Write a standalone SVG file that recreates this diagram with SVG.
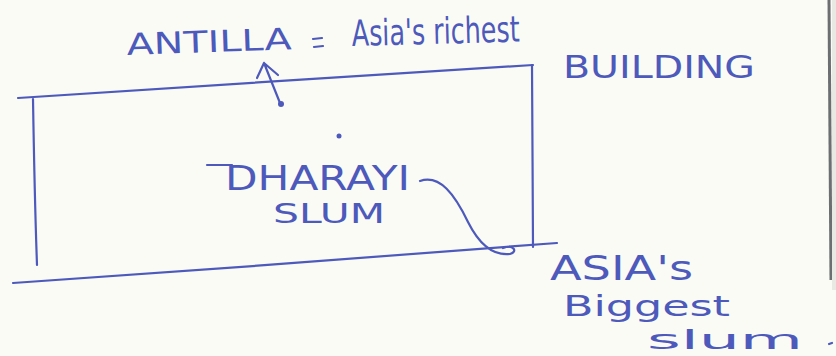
<svg xmlns="http://www.w3.org/2000/svg" width="836" height="356" viewBox="0 0 836 356">
  <style>
    .ink { fill: none; stroke: #4d5abb; stroke-width: 2.2; stroke-linecap: round; stroke-linejoin: round; }
    .hand { font-family: "DejaVu Sans", "Liberation Sans", sans-serif; fill: #4d5abb; font-weight: normal; }
  </style>
  <!-- paper -->
  <rect x="0" y="0" width="836" height="356" fill="#fbfbf6"/>
  <!-- paper edge on the right -->
  <path d="M829,0 L831,280" stroke="#6b6f72" stroke-width="3" fill="none"/>
  <rect x="832" y="0" width="4" height="290" fill="#e9e9e4"/>

  <!-- Antilla building / Dharavi block outline -->
  <g id="block">
    <path class="ink" d="M18,98 C150,90 380,74 533,65"/>
    <path class="ink" d="M33,99 C34,160 35,210 37,265"/>
    <path class="ink" d="M13,283 C180,272 400,255 557,243"/>
    <path class="ink" d="M532,65 C532,120 533,190 533,247"/>
  </g>

  <!-- Antilla label -->
  <g id="antilla">
    <text class="hand" x="127" y="55" font-size="30" textLength="165" lengthAdjust="spacingAndGlyphs" transform="rotate(-2 127 55)">ANTILLA</text>
    <path class="ink" d="M313,39 L322,38 M314,47 L323,46"/>
    <text class="hand" x="352" y="46" font-size="36" textLength="168" lengthAdjust="spacingAndGlyphs" transform="rotate(-1.5 352 46)">Asia's richest</text>
    <text class="hand" x="563" y="78" font-size="32" textLength="192" lengthAdjust="spacingAndGlyphs">BUILDING</text>
  </g>

  <!-- Dharavi label -->
  <g id="dharavi">
    <circle cx="339" cy="136" r="2.5" fill="#4d5abb"/>
    <path class="ink" d="M207,165 L232,165"/>
    <text class="hand" x="225" y="190" font-size="34" textLength="185" lengthAdjust="spacingAndGlyphs">DHARAYI</text>
    <text class="hand" x="273" y="223" font-size="26" textLength="112" lengthAdjust="spacingAndGlyphs">SLUM</text>
  </g>

  <!-- Biggest slum label -->
  <g id="asia-slum">
    <text class="hand" x="550" y="280" font-size="34" textLength="143" lengthAdjust="spacingAndGlyphs">ASIA's</text>
    <text class="hand" x="563" y="316" font-size="28" textLength="167" lengthAdjust="spacingAndGlyphs">Biggest</text>
    <text class="hand" x="647" y="349" font-size="26" textLength="156" lengthAdjust="spacingAndGlyphs">slum</text>
    <path class="ink" d="M829,344 L832,343"/>
  </g>

  <!-- connectors -->
  <g id="connectors">
    <path class="ink" d="M280,103 L264,63 M257,78 L264,63 L278,75"/>
    <circle cx="281" cy="104" r="3" fill="#4d5abb"/>
    <path class="ink" d="M420,181 C440,174 455,195 468,222 C478,242 492,256 510,254 C518,252 514,244 503,248"/>
  </g>
</svg>
